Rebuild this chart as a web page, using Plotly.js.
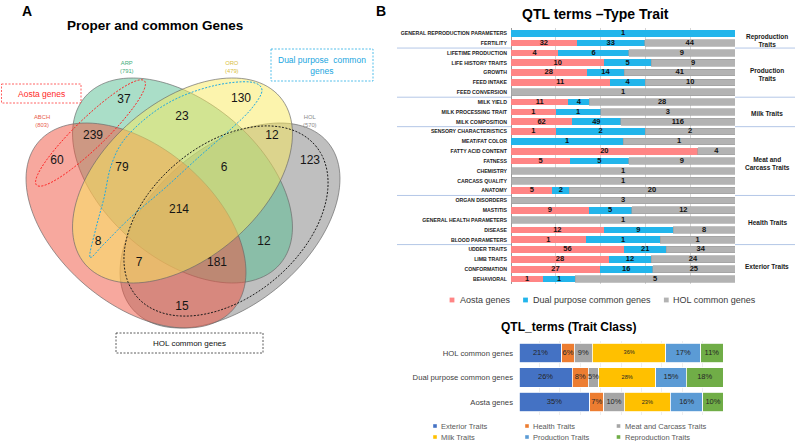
<!DOCTYPE html>
<html>
<head>
<meta charset="utf-8">
<script src="https://cdn.plot.ly/plotly-3.0.1.min.js"></script>
<style>html,body{margin:0;padding:0;background:#fff;overflow:hidden}#chart{width:795px;height:441px}</style>
</head>
<body>
<div id="chart"></div>
<script>
// ================= DATA =================
// Panel A : Venn diagram
const vennSets = ['ABCH', 'ARP', 'ORO', 'HOL'];
const vennSetSizes = [803, 791, 479, 570];
const vennRegions = ['ABCH', 'ARP', 'ORO', 'HOL', 'ABCH&ARP', 'ARP&ORO', 'ORO&HOL', 'ARP&HOL',
  'ABCH&ORO', 'ABCH&HOL', 'ABCH&ARP&ORO', 'ARP&ORO&HOL', 'ABCH&ORO&HOL', 'ABCH&ARP&HOL', 'ABCH&ARP&ORO&HOL'];
const vennCounts = [60, 37, 130, 123, 239, 23, 12, 12, 8, 15, 79, 6, 7, 181, 214];

// Panel B (top) : QTL terms - Type Trait
const traitTerms = ['GENERAL REPRODUCTION PARAMETERS', 'FERTILITY', 'LIFETIME PRODUCTION', 'LIFE HISTORY TRAITS',
  'GROWTH', 'FEED INTAKE', 'FEED CONVERSION', 'MILK YIELD', 'MILK PROCESSING TRAIT', 'MILK COMPOSITION',
  'SENSORY CHARACTERISTICS', 'MEAT/FAT COLOR', 'FATTY ACID CONTENT', 'FATNESS', 'CHEMISTRY', 'CARCASS QUALITY',
  'ANATOMY', 'ORGAN DISORDERS', 'MASTITIS', 'GENERAL HEALTH PARAMETERS', 'DISEASE', 'BLOOD PARAMETERS',
  'UDDER TRAITS', 'LIMB TRAITS', 'CONFORMATION', 'BEHAVIORAL'];
const aostaCounts = [0, 32, 4, 10, 28, 11, 0, 11, 1, 62, 1, 0, 20, 5, 0, 0, 5, 0, 9, 0, 12, 1, 56, 28, 27, 1];
const dualCounts  = [1, 33, 6, 5, 14, 4, 0, 4, 1, 49, 2, 1, 0, 5, 0, 0, 2, 0, 5, 0, 9, 1, 21, 12, 16, 1];
const holCounts   = [0, 44, 9, 9, 41, 10, 1, 28, 3, 116, 2, 1, 4, 9, 1, 1, 20, 3, 12, 1, 8, 1, 34, 24, 25, 5];
const seriesNames = ['Aosta genes', 'Dual purpose common genes', 'HOL common genes'];
const traitGroups = ['Reproduction<br>Traits', 'Production<br>Traits', 'Milk Traits', 'Meat and<br>Carcass Traits', 'Health Traits', 'Exterior Traits'];
const traitGroupSizes = [2, 5, 3, 7, 5, 4];

// Panel B (bottom) : QTL_terms (Trait Class), in %
const geneSets = ['Aosta genes', 'Dual purpose common genes', 'HOL common genes'];
const traitClasses = ['Exterior Traits', 'Health Traits', 'Meat and Carcass Traits', 'Milk Traits', 'Production Traits', 'Reproduction Traits'];
const exteriorPct     = [35, 26, 21];
const healthPct       = [7, 8, 6];
const meatPct         = [10, 5, 9];
const milkPct         = [23, 28, 36];
const productionPct   = [16, 15, 17];
const reproductionPct = [10, 18, 11];

// ================= STYLE / LAYOUT =================
const FONT = 'Liberation Sans, Arial, sans-serif';
const W = 795, H = 441;

// Venn label positions (pixel space)
const vennLabelPos = {
  'ABCH': [57, 161], 'ARP': [124, 100], 'ORO': [241, 99], 'HOL': [310, 161],
  'ABCH&ARP': [93, 136], 'ARP&ORO': [182, 117], 'ORO&HOL': [272, 136], 'ARP&HOL': [264, 242],
  'ABCH&ORO': [98, 242], 'ABCH&HOL': [182, 307], 'ABCH&ARP&ORO': [122, 168], 'ARP&ORO&HOL': [224, 168],
  'ABCH&ORO&HOL': [139, 263], 'ABCH&ARP&HOL': [217, 263], 'ABCH&ARP&ORO&HOL': [179, 210]
};
const vennShapes = {
  HOL:  {cx: 230,   cy: 225.5, rot: -40.6, fill: 'rgba(128,128,128,0.5)'},
  ARP:  {cx: 182.5, cy: 180.5, rot: 40.6,  fill: 'rgba(85,189,145,0.5)'},
  ABCH: {cx: 136,   cy: 225.5, rot: 40.6,  fill: 'rgba(240,82,62,0.5)'},
  ORO:  {cx: 182.5, cy: 180.5, rot: -40.6, fill: 'rgba(250,234,92,0.5)'}
};
const VA = 128.4, VB = 78.2;
const setLabelStyle = {
  ABCH: {pos: [42, 121], color: '#E8604C'}, ARP: {pos: [127, 67], color: '#3FAE7A'},
  ORO: {pos: [232, 67], color: '#D9BE3C'}, HOL: {pos: [310, 121], color: '#8A8A8A'}
};

function ellipsePath(cx, cy, a, b, rotDeg) {
  const t = rotDeg * Math.PI / 180, n = 120;
  let d = '';
  for (let i = 0; i <= n; i++) {
    const s = 2 * Math.PI * i / n, ex = a * Math.cos(s), ey = b * Math.sin(s);
    const x = cx + ex * Math.cos(t) - ey * Math.sin(t);
    const y = cy + ex * Math.sin(t) + ey * Math.cos(t);
    d += (i ? 'L' : 'M') + x.toFixed(2) + ',' + y.toFixed(2);
  }
  return d + 'Z';
}
function smoothPath(pts) {
  const n = pts.length;
  let d = 'M' + pts[0][0] + ',' + pts[0][1];
  for (let i = 0; i < n; i++) {
    const p0 = pts[(i - 1 + n) % n], p1 = pts[i], p2 = pts[(i + 1) % n], p3 = pts[(i + 2) % n];
    const c1 = [p1[0] + (p2[0] - p0[0]) / 6, p1[1] + (p2[1] - p0[1]) / 6];
    const c2 = [p2[0] - (p3[0] - p1[0]) / 6, p2[1] - (p3[1] - p1[1]) / 6];
    d += 'C' + c1[0].toFixed(2) + ',' + c1[1].toFixed(2) + ' ' + c2[0].toFixed(2) + ',' + c2[1].toFixed(2) + ' ' + p2[0] + ',' + p2[1];
  }
  return d + 'Z';
}
const blueDashOutline = [[90, 257], [96, 228], [104, 198], [111, 166], [124, 140], [150, 115], [180, 97], [217, 85],
  [250, 82], [262, 90], [252, 108], [232, 128], [200, 156], [165, 188], [130, 218], [104, 244]];

// axis domains (pixel based)
const topXpx = [511, 735];
const topX = [topXpx[0] / W, topXpx[1] / W];
const topY = [1 - 283.9 / H, 1 - 28.4 / H];
const botX = [519 / W, 723 / W];
const botY = [1 - 414.5 / H, 1 - 340.5 / H];

const topColors = ['#FF8585', '#22B5EB', '#B3B3B3'];
const classColors = ['#4472C4', '#ED7D31', '#A5A5A5', '#FFC000', '#5B9BD5', '#70AD47'];

// ================= TRACES =================
const traces = [];

// Venn counts
traces.push({
  type: 'scatter', mode: 'text', xaxis: 'x', yaxis: 'y',
  x: vennRegions.map(r => vennLabelPos[r][0]), y: vennRegions.map(r => vennLabelPos[r][1]),
  text: vennCounts.map(String),
  textfont: {family: FONT, size: 12, color: '#151515'},
  hoverinfo: 'skip', showlegend: false, cliponaxis: false
});

// Top stacked (100%) bars
const topSeries = [aostaCounts, dualCounts, holCounts];
topSeries.forEach((s, k) => {
  traces.push({
    type: 'bar', orientation: 'h', xaxis: 'x2', yaxis: 'y2',
    x: s, y: traitTerms, name: seriesNames[k], width: 0.68,
    marker: {color: topColors[k], line: {color: k === 2 ? '#9c9c9c' : topColors[k], width: k === 2 ? 0.6 : 0}},
    textposition: 'none', hoverinfo: 'skip', showlegend: false
  });
});
(function () {
  const xs = [], ys = [], tx = [];
  traitTerms.forEach((term, i) => {
    const tot = topSeries.reduce((a, s) => a + s[i], 0);
    let before = 0;
    topSeries.forEach(s => {
      if (s[i] > 0) { xs.push((before + s[i] / 2) / tot * 100); ys.push(term); tx.push(String(s[i])); }
      before += s[i];
    });
  });
  traces.push({
    type: 'scatter', mode: 'text', xaxis: 'x2', yaxis: 'y2', x: xs, y: ys, text: tx,
    textfont: {family: FONT, size: 7.5, color: '#111', weight: 'bold'},
    hoverinfo: 'skip', showlegend: false, cliponaxis: false
  });
})();

// Bottom stacked bars
const classSeries = [exteriorPct, healthPct, meatPct, milkPct, productionPct, reproductionPct];
classSeries.forEach((s, k) => {
  traces.push({
    type: 'bar', orientation: 'h', xaxis: 'x3', yaxis: 'y3',
    x: s, y: geneSets, name: traitClasses[k], width: 0.79,
    marker: {color: classColors[k], line: {color: '#ffffff', width: 0.8}},
    textposition: 'none', hoverinfo: 'skip', showlegend: false
  });
});
(function () {
  const xs = [], ys = [], tx = [], sz = [];
  geneSets.forEach((g, i) => {
    const tot = classSeries.reduce((a, s) => a + s[i], 0);
    let before = 0;
    classSeries.forEach((s, k) => {
      xs.push((before + s[i] / 2) / tot * 100); ys.push(g); tx.push(s[i] + '%');
      sz.push(traitClasses[k] === 'Milk Traits' ? 5.6 : 7.5);
      before += s[i];
    });
  });
  traces.push({
    type: 'scatter', mode: 'text', xaxis: 'x3', yaxis: 'y3', x: xs, y: ys, text: tx,
    textfont: {family: FONT, size: sz, color: '#262626'},
    hoverinfo: 'skip', showlegend: false, cliponaxis: false
  });
})();

// ================= SHAPES =================
const shapes = [];
['HOL', 'ARP', 'ABCH', 'ORO'].forEach(k => {
  const v = vennShapes[k];
  shapes.push({type: 'path', xref: 'x', yref: 'y', layer: 'below', path: ellipsePath(v.cx, v.cy, VA, VB, v.rot),
    fillcolor: v.fill, line: {color: 'rgba(105,105,105,0.75)', width: 0.9}});
});
shapes.push({type: 'path', xref: 'x', yref: 'y', path: ellipsePath(90.5, 133, 75, 15, -44),
  line: {color: '#FF2020', width: 1, dash: '2px,1.5px'}});
shapes.push({type: 'path', xref: 'x', yref: 'y', path: smoothPath(blueDashOutline),
  line: {color: '#1FA9E3', width: 1, dash: '2px,1.5px'}});
shapes.push({type: 'path', xref: 'x', yref: 'y', path: ellipsePath(226, 221, 117, 76, -40),
  line: {color: '#1a1a1a', width: 1, dash: '2px,1.5px'}});
shapes.push({type: 'rect', xref: 'x', yref: 'y', x0: 1.5, x1: 81, y0: 84, y1: 103, line: {color: '#FF3A3A', width: 0.8, dash: '2px,1.5px'}});
shapes.push({type: 'rect', xref: 'x', yref: 'y', x0: 271, x1: 373, y0: 49, y1: 81, line: {color: '#2AAEE5', width: 0.8, dash: '2px,1.5px'}});
shapes.push({type: 'rect', xref: 'x', yref: 'y', x0: 116, x1: 263, y0: 333, y1: 353, line: {color: '#333', width: 0.8, dash: '2px,1.5px'}});
(function () {
  let idx = 0;
  traitGroupSizes.forEach((n, g) => {
    if (g > 0) {
      const yv = idx - 0.5;
      shapes.push({type: 'line', xref: 'x', yref: 'y2', x0: 397, x1: topXpx[0], y0: yv, y1: yv, line: {color: '#B4C7E7', width: 1}});
      shapes.push({type: 'line', xref: 'x', yref: 'y2', x0: topXpx[1], x1: W, y0: yv, y1: yv, line: {color: '#B4C7E7', width: 1}});
    }
    idx += n;
  });
})();

// ================= ANNOTATIONS =================
const ann = [];
const A = (x, y, text, font, extra) => ann.push(Object.assign({xref: 'x', yref: 'y', x, y, text, showarrow: false,
  font: Object.assign({family: FONT}, font)}, extra || {}));
A(26.5, 10.5, 'A', {size: 14, color: '#000', weight: 'bold'});
A(380.5, 10.5, 'B', {size: 14, color: '#000', weight: 'bold'});
A(155, 25, 'Proper and common Genes', {size: 13.5, color: '#000', weight: 'bold'});
A(595.5, 13.5, 'QTL terms \u2013Type Trait', {size: 14, color: '#000', weight: 'bold'});
A(568.5, 327, 'QTL_terms (Trait Class)', {size: 12, color: '#000', weight: 'bold'});
vennSets.forEach((s, i) => {
  const st = setLabelStyle[s];
  A(st.pos[0], st.pos[1], s + '<br>(' + vennSetSizes[i] + ')', {size: 5.8, color: st.color});
});
A(41, 93.5, 'Aosta genes', {size: 8.5, color: '#FF2A2A'});
A(322, 65, 'Dual purpose  common<br>genes', {size: 8.5, color: '#1AA6E0'});
A(189.5, 343, 'HOL common genes', {size: 8, color: '#111'});
(function () {
  let idx = 0;
  traitGroupSizes.forEach((n, g) => {
    ann.push({xref: 'x', yref: 'y2', x: 767, y: idx + (n - 1) / 2, yshift: -2, text: traitGroups[g], showarrow: false,
      xanchor: 'center', align: 'center',
      font: {family: FONT, size: 6.5, color: '#1a1a1a', weight: 'bold'}});
    idx += n;
  });
})();
const topLegPos = [[452, 457.5], [525.5, 530.5], [666.3, 671]];
seriesNames.forEach((n, k) => {
  shapes.push({type: 'rect', xref: 'x', yref: 'y', x0: topLegPos[k][0] - 2.4, x1: topLegPos[k][0] + 2.4, y0: 297.6, y1: 302.4,
    fillcolor: topColors[k], line: {width: 0}});
  A(topLegPos[k][1], 300, n, {size: 9, color: '#3a3a3a'}, {xanchor: 'left'});
});
const botLegCols = [[435, 439], [527, 530.5], [618.5, 622.5]];
const botLegRows = [426, 437];
traitClasses.forEach((n, k) => {
  const c = botLegCols[k % 3], y = botLegRows[Math.floor(k / 3)];
  shapes.push({type: 'rect', xref: 'x', yref: 'y', x0: c[0] - 1.8, x1: c[0] + 1.8, y0: y - 1.8, y1: y + 1.8,
    fillcolor: classColors[k], line: {width: 0}});
  A(c[1], y, n, {size: 7.5, color: '#595959'}, {xanchor: 'left'});
});

// ================= LAYOUT =================
const layout = {
  width: W, height: H, margin: {l: 0, r: 0, t: 0, b: 0, autoexpand: false},
  paper_bgcolor: '#ffffff', plot_bgcolor: 'rgba(0,0,0,0)',
  font: {family: FONT},
  barmode: 'stack', barnorm: 'percent', showlegend: false, hovermode: false,
  xaxis: {domain: [0, 1], range: [0, W], visible: false, fixedrange: true},
  yaxis: {domain: [0, 1], range: [H, 0], visible: false, fixedrange: true},
  xaxis2: {domain: topX, range: [0, 100], anchor: 'y2', showticklabels: false, ticks: '',
    showgrid: true, dtick: 20, gridcolor: '#d6d6d6', gridwidth: 1, zeroline: true, zerolinecolor: '#9a9a9a', zerolinewidth: 1,
    showline: false, fixedrange: true},
  yaxis2: {domain: topY, anchor: 'x2', type: 'category', categoryorder: 'array', categoryarray: traitTerms,
    range: [traitTerms.length - 0.5, -0.5], ticks: '', showgrid: false, zeroline: false, showline: false,
    tickfont: {family: FONT, size: 5.2, color: '#222', weight: 'bold'}, ticklabelstandoff: 3, fixedrange: true},
  xaxis3: {domain: botX, range: [0, 100], anchor: 'y3', showticklabels: false, ticks: '',
    showgrid: true, dtick: 10, gridcolor: '#eeeeee', zeroline: false, showline: false, fixedrange: true},
  yaxis3: {domain: botY, anchor: 'x3', type: 'category', categoryorder: 'array', categoryarray: geneSets,
    range: [-0.5, 2.5], ticks: '', showgrid: false, zeroline: false, showline: false,
    tickfont: {family: FONT, size: 7.7, color: '#404040'}, ticklabelstandoff: 5, fixedrange: true},
  shapes: shapes, annotations: ann
};

Plotly.newPlot('chart', traces, layout, {staticPlot: true, displayModeBar: false});
</script>
</body>
</html>
